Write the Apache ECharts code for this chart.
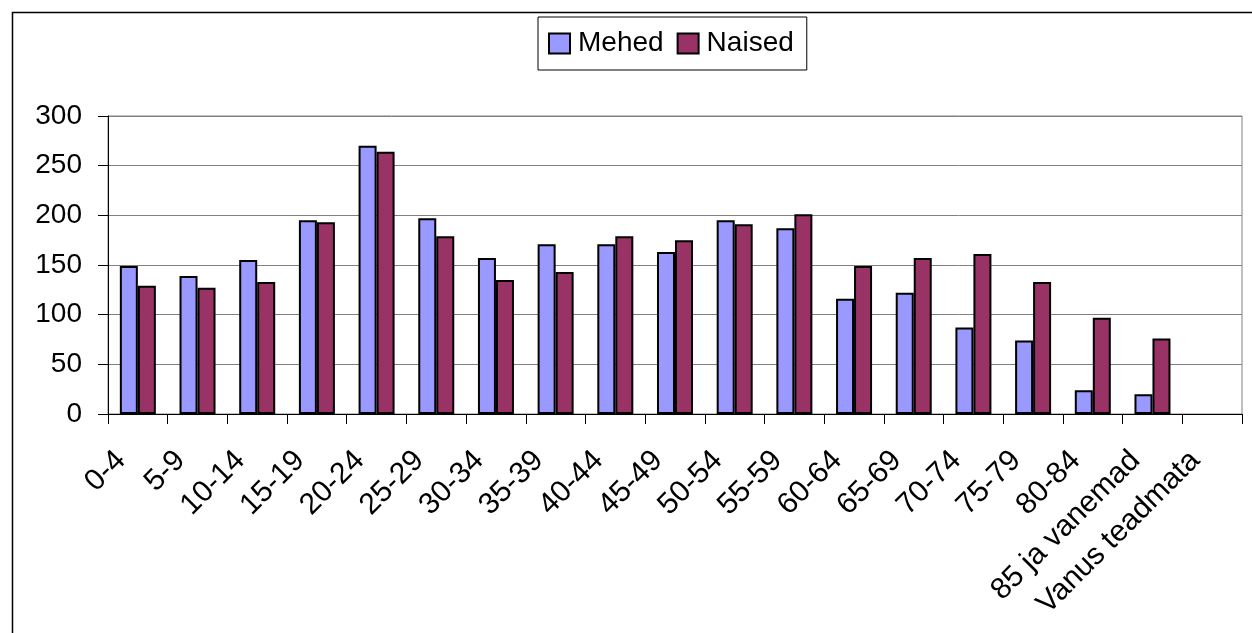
<!DOCTYPE html>
<html>
<head>
<meta charset="utf-8">
<script src="https://cdn.jsdelivr.net/npm/echarts@6/dist/echarts.min.js"></script>
<style>
  html, body { margin: 0; padding: 0; background: #fff; }
  #chart { width: 1252px; height: 633px; }
</style>
</head>
<body>
<div id="chart"></div>
<script>
// vanuserühmad
var ageGroups = ['0-4', '5-9', '10-14', '15-19', '20-24', '25-29', '30-34', '35-39', '40-44',
  '45-49', '50-54', '55-59', '60-64', '65-69', '70-74', '75-79', '80-84', '85 ja vanemad', 'Vanus teadmata'];
var mehed = [149, 139, 155, 195, 270, 197, 157, 171, 171, 163, 195, 187, 116, 122, 87, 74, 24, 20, null];
var naised = [129, 127, 133, 193, 264, 179, 135, 143, 179, 175, 191, 201, 149, 157, 161, 133, 97, 76, null];
var yTicks = { min: 0, max: 300, interval: 50 };

var font = '"Liberation Sans", Arial, sans-serif';
var chart = echarts.init(document.getElementById('chart'));

chart.setOption({
  animation: false,
  textStyle: { fontFamily: font },
  graphic: [{
    type: 'rect',
    shape: { x: 12.5, y: 12.5, width: 1300, height: 700 },
    style: { fill: 'none', stroke: '#000', lineWidth: 1.5 },
    silent: true
  }],
  legend: {
    top: 17,
    left: 538,
    padding: [12, 13, 12, 10],
    borderColor: '#000',
    borderWidth: 1,
    icon: 'rect',
    itemWidth: 21,
    itemHeight: 20,
    itemGap: 13,
    textStyle: { fontSize: 28, lineHeight: 29, color: '#000', fontFamily: font, padding: [0, 0, 0, 3] },
    data: ['Mehed', 'Naised']
  },
  grid: {
    left: 108,
    right: 10,
    top: 116,
    bottom: 219,
    show: true,
    borderColor: '#808080',
    borderWidth: 1
  },
  xAxis: {
    type: 'category',
    data: ageGroups,
    axisLine: { lineStyle: { color: '#000', width: 1 } },
    axisTick: { show: true, interval: 0, length: 10, lineStyle: { color: '#000' } },
    axisLabel: {
      interval: 0,
      rotate: 45,
      margin: 25,
      padding: [0, 24, 0, 0],
      fontSize: 30,
      color: '#000',
      fontFamily: font
    },
    splitLine: { show: false }
  },
  yAxis: {
    type: 'value',
    min: yTicks.min,
    max: yTicks.max,
    interval: yTicks.interval,
    axisLine: { show: true, lineStyle: { color: '#000', width: 1 } },
    axisTick: { show: true, length: 10, lineStyle: { color: '#000' } },
    axisLabel: { fontSize: 28, color: '#000', margin: 26, fontFamily: font },
    splitLine: { lineStyle: { color: '#808080', width: 1 } }
  },
  series: [{
    name: 'Mehed',
    type: 'bar',
    data: mehed,
    barWidth: 18,
    barGap: '0%',
    itemStyle: { color: '#9999FF', borderColor: '#000', borderWidth: 2 }
  }, {
    name: 'Naised',
    type: 'bar',
    data: naised,
    barWidth: 18,
    barGap: '0%',
    itemStyle: { color: '#993366', borderColor: '#000', borderWidth: 2 }
  }]
});
</script>
</body>
</html>
